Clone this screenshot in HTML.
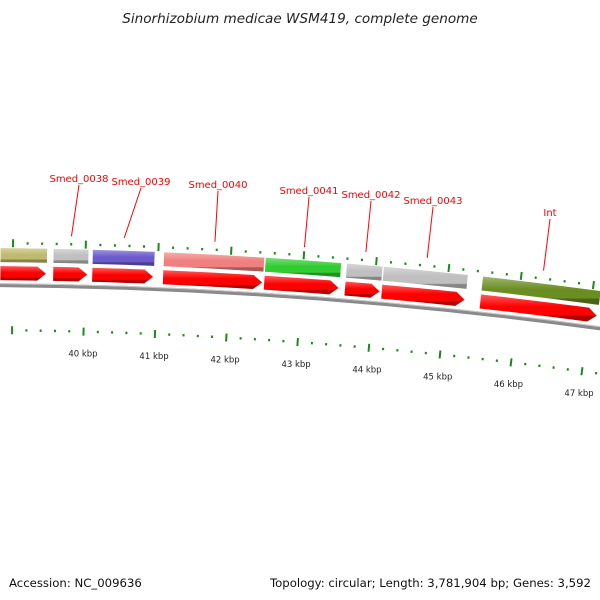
<!DOCTYPE html>
<html><head><meta charset="utf-8"><style>
html,body{margin:0;padding:0;background:#fff}
svg{display:block;font-family:"DejaVu Sans","Liberation Sans",sans-serif}
</style></head><body>
<svg id="c" width="600" height="600" viewBox="0 0 600 600">
<text x="300" y="23" text-anchor="middle" font-size="13.6" font-style="italic" fill="#222">Sinorhizobium medicae WSM419, complete genome</text>
<text x="9" y="587" font-size="11.7" fill="#111">Accession: NC_009636</text>
<text x="591" y="587" text-anchor="end" font-size="11.7" fill="#111">Topology: circular; Length: 3,781,904 bp; Genes: 3,592</text>
<defs>
<linearGradient id="shine" x1="0" y1="0" x2="0" y2="1">
<stop offset="0" stop-color="#fff" stop-opacity="0.35"/><stop offset="0.45" stop-color="#fff" stop-opacity="0"/><stop offset="0.75" stop-color="#000" stop-opacity="0"/><stop offset="0.8" stop-color="#000" stop-opacity="0.3"/><stop offset="1" stop-color="#000" stop-opacity="0.3"/>
</linearGradient>
</defs>
<g id="g"></g>
</svg>
<script>
const geneNames=["","Smed_0038","Smed_0039","Smed_0040","Smed_0041","Smed_0042","Smed_0043","Int"];
const geneStarts=[38.82,39.55,40.09,41.07,42.47,43.59,44.10,45.47];
const geneEnds=[39.48,40.05,40.96,42.47,43.53,44.10,45.28,47.12];
const geneColors=["#bfba6e","#c0c0c0","#6a5acd","#f08080","#32cd32","#c0c0c0","#c0c0c0","#6b8e23"];
const tickLabels=[40,41,42,43,44,45,46,47];
const labelX=[0,79,141,218,309,371,433,550];
const labelY=[0,178,181,184,190,194,200,212];

const NS="http://www.w3.org/2000/svg";
const g=document.getElementById('g');
const cx=-39,cy=5022,th0=0.02612,k=0.01523;
function pt(pos,r){const t=th0+(pos-40)*k;return [cx+r*Math.sin(t),cy-r*Math.cos(t)];}
function P(a){return a[0].toFixed(2)+" "+a[1].toFixed(2);}
function mk(tag,attrs){const e=document.createElementNS(NS,tag);for(const a in attrs)e.setAttribute(a,attrs[a]);g.appendChild(e);return e;}
function sector(s,e,r1,r2){return "M"+P(pt(s,r2))+" A"+r2+" "+r2+" 0 0 1 "+P(pt(e,r2))+" L"+P(pt(e,r1))+" A"+r1+" "+r1+" 0 0 0 "+P(pt(s,r1))+" Z";}
function arrow(s,e,r1,r2){const h=0.12;const m=(r1+r2)/2;return "M"+P(pt(s,r2))+" A"+r2+" "+r2+" 0 0 1 "+P(pt(e-h,r2))+" L"+P(pt(e,m))+" L"+P(pt(e-h,r1))+" A"+r1+" "+r1+" 0 0 0 "+P(pt(s,r1))+" Z";}

let bb=mk('path',{d:"M"+P(pt(38,4737))+" A4737 4737 0 0 1 "+P(pt(48,4737)),fill:"none",stroke:"#8a8a8a","stroke-width":4});


let bb2=mk('path',{d:"M"+P(pt(38,4738.5))+" A4738.5 4738.5 0 0 1 "+P(pt(48,4738.5)),fill:"none",stroke:"#c8c8c8","stroke-width":1});



for(let i=0;i<=48;i++){
  const pos=38.6+i*0.2;
  const major=Math.abs(pos-Math.round(pos))<0.01;
  const l=major?4:1.2;
  [4779,4692].forEach(r=>{
    const a=pt(pos,r-l),b=pt(pos,r+l);
    const t=mk('line',{x1:a[0],y1:a[1],x2:b[0],y2:b[1],stroke:"#1a8a1a","stroke-width":2});
    
    
  });
}
tickLabels.forEach(v=>{
  const a=pt(v,4670);
  const t=mk('text',{x:a[0],y:a[1]+3,"text-anchor":"middle","font-size":"8.5",fill:"#222"});
  t.textContent=v+" kbp";
  
  
});

geneStarts.forEach((s,i)=>{
  const e=geneEnds[i];
  const b=mk('path',{d:sector(s+0.01,e-0.01,4760,4774),fill:geneColors[i]});
  
  
  const bs=mk('path',{d:sector(s+0.01,e-0.01,4760,4774),fill:"url(#shine)"});
  
  
  const ar=mk('path',{d:arrow(s+0.01,e-0.02,4742,4756),fill:"#ff0000"});
  
  
  const as=mk('path',{d:arrow(s+0.01,e-0.02,4742,4756),fill:"url(#shine)"});
  
  
  if(geneNames[i]){
    const c=pt((s+e)/2,4787);
    const ln=mk('line',{x1:labelX[i],y1:labelY[i]+7,x2:c[0],y2:c[1],stroke:"#ff0000","stroke-width":1});
    
    
    const t=mk('text',{x:labelX[i],y:labelY[i]+4,"text-anchor":"middle","font-size":"10",fill:"#ff0000"});
    t.textContent=geneNames[i];
    
    
  }
});
</script>
</body></html>
